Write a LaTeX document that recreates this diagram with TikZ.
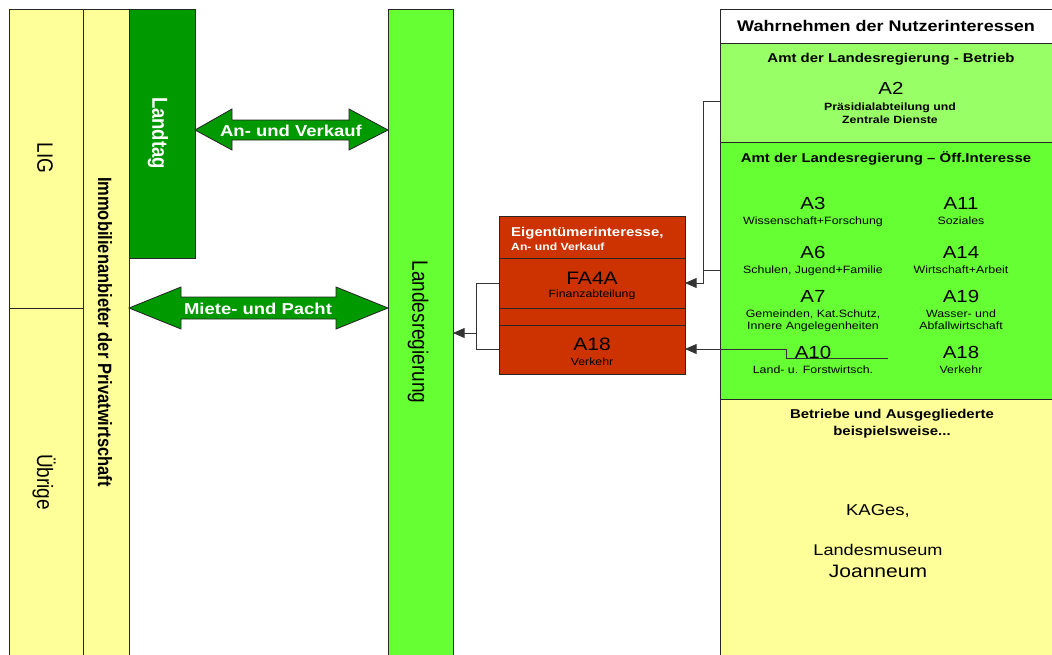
\documentclass[tikz,border=0pt]{standalone}
\usepackage{fontspec}
\setmainfont{Liberation Sans}
\usetikzlibrary{arrows.meta}
\definecolor{cYel}{HTML}{FFFF99}
\definecolor{cDark}{HTML}{009900}
\definecolor{cBright}{HTML}{66FF33}
\definecolor{cLight}{HTML}{99FF66}
\definecolor{cRed}{HTML}{CC3300}
\newcommand{\fsz}[1]{\fontsize{#1}{#1}\selectfont}
\begin{document}
\begin{tikzpicture}
\path[use as bounding box] (0,0) rectangle (1052pt,-654pt);
\begin{scope}[transform canvas={xscale=1.17}, x=0.8547009pt, y=-1pt,
  box/.style={draw=black!85, line width=0.8pt},
  lbl/.style={inner sep=0pt, anchor=base, text=black},
  lblw/.style={inner sep=0pt, anchor=base west, text=white},
  rot/.style={inner sep=0pt, rotate=-90},
  link/.style={draw=black!80, line width=0.8pt},
  tip/.style={-{Triangle[length=10pt,width=10pt]}}]

% ---------- left columns ----------
\path[box, fill=cYel] (9,9) rectangle (83,308);
\path[box, fill=cYel] (9,308) rectangle (83,662);
\path[box, fill=cYel] (83,9) rectangle (129,662);
\path[box, fill=cDark] (129,9) rectangle (195,258);
\path[box, fill=cBright] (388,9) rectangle (453,662);

\node[rot, font=\fsz{19}] (tLIG) at (45,158) {LIG};
\node[rot, font=\fsz{19}] (tUeb) at (44,482) {Übrige};
\node[rot, font=\fsz{16.5}\bfseries] (tImmo) at (105,332) {Immobilienanbieter der Privatwirtschaft};
\node[rot, font=\fsz{18.5}\bfseries, text=white] (tLandtag) at (158,133) {Landtag};
\node[rot, font=\fsz{19}] (tLR) at (418,332) {Landesregierung};

% ---------- double arrows ----------
\path[box, fill=cDark] (195,130) -- (232,109) -- (232,120) -- (349,120) -- (349,109) -- (388,130)
  -- (349,150) -- (349,140) -- (232,140) -- (232,150) -- cycle;
\node[lbl, text=white, font=\fsz{15.8}\bfseries] (tAV) at (291,136) {An- und Verkauf};

\path[box, fill=cDark] (129,308) -- (181,287) -- (181,297) -- (336,297) -- (336,287) -- (388,308)
  -- (336,329) -- (336,319) -- (181,319) -- (181,329) -- cycle;
\node[lbl, text=white, font=\fsz{15.8}\bfseries] (tMP) at (258,314) {Miete- und Pacht};

% ---------- red box ----------
\path[box, fill=cRed] (499,216) rectangle (685,374);
\draw[box] (499,258) -- (685,258);
\draw[box] (499,308) -- (685,308);
\draw[box] (499,325) -- (685,325);
\node[lblw, font=\fsz{12.8}\bfseries] (tEig) at (511,236) {Eigentümerinteresse,};
\node[lblw, font=\fsz{10.4}\bfseries] (tEigAV) at (511,250) {An- und Verkauf};
\node[lbl, font=\fsz{18}] (tFA) at (592,284) {FA4A};
\node[lbl, font=\fsz{10.5}] (tFin) at (592,297) {Finanzabteilung};
\node[lbl, font=\fsz{18}] (tA18r) at (592,350) {A18};
\node[lbl, font=\fsz{10.5}] (tVerr) at (592,365) {Verkehr};

% ---------- right panel ----------
\path[box, fill=white] (720,9) rectangle (1066,43);
\path[box, fill=cLight] (720,43) rectangle (1066,142);
\path[box, fill=cBright] (720,142) rectangle (1066,399);
\path[box, fill=cYel] (720,399) rectangle (1066,662);

\node[lbl, font=\fsz{15.4}\bfseries] (tWahr) at (886,31) {Wahrnehmen der Nutzerinteressen};
\node[lbl, font=\fsz{12.8}\bfseries] (tBet) at (891,62) {Amt der Landesregierung - Betrieb};
\node[lbl, font=\fsz{17.5}] (tA2) at (891,94) {A2};
\node[lbl, font=\fsz{10.5}\bfseries] (tA2a) at (890,110) {Präsidialabteilung und};
\node[lbl, font=\fsz{10.5}\bfseries] (tA2b) at (890,123) {Zentrale Dienste};
\node[lbl, font=\fsz{12.8}\bfseries] (tOeff) at (886,162) {Amt der Landesregierung – Öff.Interesse};

\node[lbl, font=\fsz{17.5}] (tA3) at (813,209) {A3};
\node[lbl, font=\fsz{10.6}] (tA3a) at (813,224) {Wissenschaft+Forschung};
\node[lbl, font=\fsz{17.5}] (tA6) at (813,258) {A6};
\node[lbl, font=\fsz{10.6}] (tA6a) at (813,273) {Schulen, Jugend+Familie};
\node[lbl, font=\fsz{17.5}] (tA7) at (813,302) {A7};
\node[lbl, font=\fsz{10.6}] (tA7a) at (813,317) {Gemeinden, Kat.Schutz,};
\node[lbl, font=\fsz{10.6}] (tA7b) at (813,329) {Innere Angelegenheiten};
\node[lbl, font=\fsz{17.5}] (tA10) at (813,358) {A10};
\node[lbl, font=\fsz{10.6}] (tA10a) at (813,373) {Land- u. Forstwirtsch.};

\node[lbl, font=\fsz{17.5}] (tA11) at (961,209) {A11};
\node[lbl, font=\fsz{10.6}] (tA11a) at (961,224) {Soziales};
\node[lbl, font=\fsz{17.5}] (tA14) at (961,258) {A14};
\node[lbl, font=\fsz{10.6}] (tA14a) at (961,273) {Wirtschaft+Arbeit};
\node[lbl, font=\fsz{17.5}] (tA19) at (961,302) {A19};
\node[lbl, font=\fsz{10.6}] (tA19a) at (961,317) {Wasser- und};
\node[lbl, font=\fsz{10.6}] (tA19b) at (961,329) {Abfallwirtschaft};
\node[lbl, font=\fsz{17.5}] (tA18) at (961,358) {A18};
\node[lbl, font=\fsz{10.6}] (tA18a) at (961,373) {Verkehr};

\node[lbl, font=\fsz{12.8}\bfseries] (tBetr) at (892,418) {Betriebe und Ausgegliederte};
\node[lbl, font=\fsz{12.8}\bfseries] (tBsp) at (892,435) {beispielsweise...};
\node[lbl, font=\fsz{15.8}] (tKAG) at (878,515) {KAGes,};
\node[lbl, font=\fsz{15.5}] (tLM) at (878,555) {Landesmuseum};
\node[lbl, font=\fsz{18}] (tJoa) at (878,577) {Joanneum};

% ---------- connectors ----------
\coordinate (betL) at (720,101);
\coordinate (oeffL) at (720,270);
\coordinate (jR) at (703,283);
\coordinate (jR2) at (703,270);
\coordinate (faR) at (685,283);
\coordinate (faL) at (499,283);
\coordinate (a18R) at (685,349);
\coordinate (a18L) at (499,349);
\coordinate (a10e) at (888,358);
\coordinate (a10m) at (786,358);
\coordinate (bkTop) at (476,283);
\coordinate (bkBot) at (476,349);
\coordinate (bkMid) at (476,333);
\coordinate (lrR) at (453,333);

\draw[link, tip] (betL) -| (jR) -- (faR);
\draw[link] (oeffL) -- (jR2);
\draw[link, tip] (a10e) -- (a10m) |- (a18R);
\draw[link] (faL) -- (bkTop) -- (bkBot) -- (a18L);
\draw[link, tip] (bkMid) -- (lrR);
\end{scope}
\end{tikzpicture}
\end{document}
